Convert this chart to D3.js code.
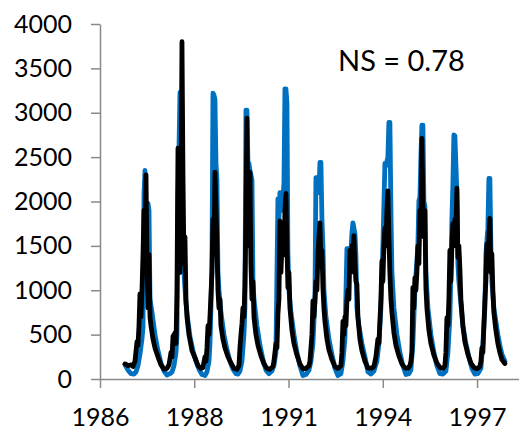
<!DOCTYPE html>
<html>
<head>
<meta charset="utf-8">
<script src="https://cdn.jsdelivr.net/npm/d3@7"></script>
<style>
  body { margin: 0; background: #fff; }
  svg { display: block; }
</style>
</head>
<body>
<div id="chart"></div>
<script>
// observed flow (black), decimal years
const obsYear = [
  1986.786, 1986.873, 1986.960, 1987.018, 1987.076, 1987.134, 1987.163, 1987.192, 1987.221, 1987.250,
  1987.279, 1987.309, 1987.338, 1987.367, 1987.396, 1987.425, 1987.454, 1987.483, 1987.512, 1987.541,
  1987.599, 1987.657, 1987.744, 1987.831, 1987.918, 1988.005, 1988.064,
  1988.122, 1988.151, 1988.180, 1988.238, 1988.267, 1988.296, 1988.325, 1988.354, 1988.383, 1988.412,
  1988.441, 1988.470, 1988.499, 1988.528, 1988.557, 1988.586, 1988.644, 1988.731, 1988.818, 1988.906,
  1988.993, 1989.051, 1989.109,
  1989.138, 1989.167, 1989.196, 1989.225, 1989.254, 1989.283, 1989.312, 1989.341, 1989.370, 1989.399,
  1989.428, 1989.457, 1989.486, 1989.515, 1989.544, 1989.573, 1989.631, 1989.690, 1989.777, 1989.864,
  1989.951, 1990.038, 1990.096,
  1990.125, 1990.154, 1990.183, 1990.212, 1990.241, 1990.270, 1990.299, 1990.328, 1990.357, 1990.386,
  1990.415, 1990.444, 1990.474, 1990.503, 1990.532, 1990.590, 1990.648, 1990.735, 1990.822, 1990.909,
  1990.996, 1991.083,
  1991.112, 1991.170, 1991.199, 1991.228, 1991.257, 1991.286, 1991.316, 1991.345, 1991.374, 1991.403,
  1991.432, 1991.461, 1991.490, 1991.519, 1991.548, 1991.577, 1991.635, 1991.693, 1991.780, 1991.867,
  1991.954, 1992.041, 1992.129,
  1992.158, 1992.187, 1992.216, 1992.245, 1992.274, 1992.303, 1992.332, 1992.361, 1992.390, 1992.419,
  1992.448, 1992.477, 1992.506, 1992.535, 1992.564, 1992.593, 1992.651, 1992.709, 1992.796, 1992.884,
  1992.971, 1993.058,
  1993.087, 1993.116, 1993.145, 1993.174, 1993.203, 1993.232, 1993.261, 1993.290, 1993.319, 1993.348,
  1993.377, 1993.406, 1993.435, 1993.464, 1993.493, 1993.522, 1993.551, 1993.609, 1993.667, 1993.755,
  1993.842, 1993.929, 1994.016,
  1994.074, 1994.132, 1994.161, 1994.190, 1994.219, 1994.248, 1994.277, 1994.306, 1994.335, 1994.364,
  1994.393, 1994.422, 1994.451, 1994.480, 1994.510, 1994.539, 1994.597, 1994.655, 1994.742, 1994.829,
  1994.916, 1995.003, 1995.061,
  1995.090, 1995.119, 1995.148, 1995.177, 1995.206, 1995.235, 1995.264, 1995.293, 1995.323, 1995.352,
  1995.381, 1995.410, 1995.439, 1995.468, 1995.497, 1995.526, 1995.555, 1995.613, 1995.671, 1995.758,
  1995.845, 1995.932, 1996.019, 1996.077,
  1996.107, 1996.136, 1996.165, 1996.194, 1996.223, 1996.252, 1996.281, 1996.310, 1996.339, 1996.368,
  1996.397, 1996.426, 1996.455, 1996.484, 1996.513, 1996.542, 1996.600, 1996.658, 1996.745, 1996.832,
  1996.920, 1997.007, 1997.094,
  1997.123, 1997.152, 1997.181, 1997.210, 1997.239, 1997.268, 1997.297, 1997.326, 1997.355, 1997.384,
  1997.413, 1997.442, 1997.471, 1997.500, 1997.558, 1997.616, 1997.674, 1997.733, 1997.820
];
const obsFlow = [
  170, 150, 160, 140, 200, 420, 380, 600, 960, 700,
  1000, 1400, 1900, 1500, 2300, 1300, 800, 1400, 700, 600,
  450, 350, 250, 160, 110, 120, 160,
  300, 250, 480, 520, 400, 1000, 2600, 2000, 1200, 2000,
  3800, 2300, 1300, 1600, 900, 700, 500, 320, 240, 150,
  120, 130, 250,
  200, 350, 600, 500, 700, 950, 1200, 1800, 1400, 2330,
  1950, 1500, 1000, 800, 900, 600, 450, 350, 250, 180,
  120, 110, 150,
  350, 500, 620, 800, 700, 1070, 1800, 2940, 1500, 1800,
  2330, 1300, 900, 1100, 700, 500, 380, 260, 170, 120,
  110, 140,
  200, 400, 350, 730, 900, 1780, 1200, 1500, 1700, 1400,
  1900, 2090, 1480, 1030, 1200, 800, 550, 400, 270, 170,
  115, 120, 150,
  200, 350, 500, 880, 700, 880, 1100, 1000, 1400, 1600,
  1760, 1300, 1450, 1030, 800, 650, 450, 330, 220, 140,
  120, 150,
  300, 650, 500, 700, 600, 880, 1000, 900, 1450, 1200,
  1500, 1400, 1615, 1300, 1100, 1070, 700, 450, 320, 200,
  125, 120, 140,
  250, 450, 400, 650, 900, 1330, 1100, 1500, 1700, 1500,
  1900, 2120, 1600, 1190, 900, 750, 520, 380, 260, 170,
  125, 120, 150,
  200, 300, 1030, 800, 1140, 1000, 1200, 1500, 1300, 1900,
  1700, 2710, 2000, 1600, 1900, 1030, 800, 550, 400, 270,
  180, 130, 120, 150,
  300, 690, 600, 900, 1450, 1100, 1500, 1750, 1500, 1800,
  1700, 2150, 1370, 1500, 1250, 900, 600, 420, 280, 180,
  130, 115, 140,
  200, 350, 300, 600, 880, 1100, 1520, 1300, 1600, 1810,
  1200, 1410, 1000, 750, 550, 400, 300, 220, 175
];

// simulated flow (blue), decimal years
const simYear = [
  1986.786, 1986.873, 1986.960, 1987.047, 1987.105, 1987.163, 1987.221, 1987.279, 1987.309, 1987.338,
  1987.367, 1987.396, 1987.425, 1987.454, 1987.483, 1987.512, 1987.570, 1987.657, 1987.744, 1987.831,
  1987.918, 1988.005, 1988.093,
  1988.151, 1988.209, 1988.267, 1988.296, 1988.325, 1988.354, 1988.383, 1988.412, 1988.441, 1988.470,
  1988.499, 1988.557, 1988.615, 1988.673, 1988.760, 1988.847, 1988.935, 1989.022, 1989.109,
  1989.167, 1989.225, 1989.254, 1989.283, 1989.312, 1989.341, 1989.370, 1989.399, 1989.428, 1989.457,
  1989.486, 1989.515, 1989.573, 1989.660, 1989.748, 1989.835, 1989.922, 1990.009, 1990.067, 1990.125,
  1990.183, 1990.241, 1990.270, 1990.299, 1990.328, 1990.357, 1990.386, 1990.415, 1990.444, 1990.474,
  1990.503, 1990.532, 1990.619, 1990.706, 1990.793, 1990.880, 1990.967, 1991.054,
  1991.112, 1991.170, 1991.228, 1991.257, 1991.286, 1991.345, 1991.403, 1991.432, 1991.461, 1991.490,
  1991.519, 1991.548, 1991.606, 1991.693, 1991.780, 1991.867, 1991.954, 1992.041, 1992.129,
  1992.187, 1992.245, 1992.303, 1992.332, 1992.361, 1992.419, 1992.448, 1992.477, 1992.506, 1992.535,
  1992.564, 1992.622, 1992.709, 1992.796, 1992.884, 1992.971, 1993.058,
  1993.116, 1993.174, 1993.232, 1993.261, 1993.319, 1993.377, 1993.406, 1993.435, 1993.464, 1993.493,
  1993.522, 1993.580, 1993.667, 1993.755, 1993.842, 1993.929, 1994.016,
  1994.103, 1994.161, 1994.219, 1994.277, 1994.335, 1994.364, 1994.422, 1994.451, 1994.480, 1994.510,
  1994.539, 1994.597, 1994.684, 1994.771, 1994.858, 1994.945, 1995.032, 1995.090,
  1995.148, 1995.206, 1995.293, 1995.323, 1995.352, 1995.381, 1995.410, 1995.439, 1995.468, 1995.497,
  1995.526, 1995.584, 1995.671, 1995.758, 1995.845, 1995.932, 1996.019, 1996.107,
  1996.165, 1996.223, 1996.252, 1996.281, 1996.310, 1996.339, 1996.368, 1996.397, 1996.426, 1996.455,
  1996.484, 1996.542, 1996.600, 1996.687, 1996.774, 1996.861, 1996.949, 1997.036, 1997.123,
  1997.181, 1997.239, 1997.268, 1997.297, 1997.326, 1997.355, 1997.384, 1997.413, 1997.442, 1997.500,
  1997.558, 1997.616, 1997.674, 1997.733, 1997.820
];
const simFlow = [
  160, 100, 60, 55, 80, 150, 280, 450, 580, 2080,
  2350, 1700, 1400, 1980, 1900, 900, 750, 500, 320, 180,
  90, 45, 60,
  80, 150, 300, 500, 2050, 2600, 3230, 3230, 2200, 1250,
  1200, 850, 650, 480, 320, 200, 110, 50, 40,
  80, 200, 400, 800, 1300, 3220, 3200, 3150, 2430, 2250,
  1200, 1000, 750, 500, 330, 200, 110, 60, 55, 90,
  200, 500, 800, 3030, 3030, 2430, 2430, 2350, 2300, 2240,
  1100, 900, 600, 380, 220, 100, 60, 90,
  150, 300, 2030, 1800, 2100, 1900, 2200, 3270, 3270, 3100,
  1400, 1000, 750, 500, 300, 150, 40, 50, 100,
  200, 400, 900, 2270, 2270, 2100, 2440, 2440, 1800, 1500,
  1000, 700, 450, 280, 120, 40, 60,
  200, 450, 1470, 1470, 1200, 1650, 1760, 1700, 1640, 1400,
  800, 600, 400, 250, 80, 55, 90,
  200, 400, 800, 1500, 2430, 2400, 2500, 2890, 2890, 1900,
  1200, 800, 500, 300, 150, 50, 60, 100,
  400, 1000, 1500, 2010, 2050, 2500, 2860, 2860, 2000, 1950,
  1200, 800, 500, 300, 150, 60, 55, 90,
  300, 700, 1200, 1800, 2200, 2750, 2740, 2420, 2100, 1300,
  1100, 850, 600, 400, 250, 120, 55, 60, 120,
  400, 800, 1400, 1560, 1700, 2260, 2260, 1500, 1100, 800,
  650, 500, 380, 280, 200
];

// axis settings
const yTicks = [0, 500, 1000, 1500, 2000, 2500, 3000, 3500, 4000];
const xTickLabels = ["1986", "1988", "1991", "1994", "1997"];
const axisStart = 1986.06;          // first date tick
const axisEnd = 1998.23;
const tickStepDays = 1000;          // date axis major unit
const nsLabel = "NS = 0.78";

const width = 519;
const height = 430;
const margin = { top: 24, right: 0, bottom: 51, left: 100 };

const svg = d3.select("#chart").append("svg")
  .attr("width", width)
  .attr("height", height);

const x = d3.scaleLinear()
  .domain([axisStart, axisEnd])
  .range([margin.left, width - margin.right]);

const y = d3.scaleLinear()
  .domain([0, 4000])
  .range([height - margin.bottom, margin.top]);

const xTickValues = xTickLabels.map((_, i) => axisStart + i * tickStepDays / 365.25);

// series lines, simulated under observed
const line = d3.line()
  .x(d => x(d[0]))
  .y(d => y(d[1]));

const simData = simYear.map((t, i) => [t, simFlow[i]]);
const obsData = obsYear.map((t, i) => [t, obsFlow[i]]);

svg.append("path")
  .datum(simData)
  .attr("fill", "none")
  .attr("stroke", "#0070C0")
  .attr("stroke-width", 4.8)
  .attr("stroke-linejoin", "round")
  .attr("stroke-linecap", "round")
  .attr("d", line);

svg.append("path")
  .datum(obsData)
  .attr("fill", "none")
  .attr("stroke", "#000")
  .attr("stroke-width", 4.8)
  .attr("stroke-linejoin", "round")
  .attr("stroke-linecap", "round")
  .attr("d", line);

// Y axis
const yAxis = svg.append("g")
  .attr("transform", `translate(${margin.left},0)`)
  .call(d3.axisLeft(y)
    .tickValues(yTicks)
    .tickFormat(d3.format("d"))
    .tickSize(9)
    .tickSizeOuter(0)
    .tickPadding(19));

// X axis
const xAxis = svg.append("g")
  .attr("transform", `translate(0,${height - margin.bottom})`)
  .call(d3.axisBottom(x)
    .tickValues(xTickValues)
    .tickFormat((d, i) => xTickLabels[i])
    .tickSize(9)
    .tickSizeOuter(0));

xAxis.selectAll(".tick text")
  .attr("y", 47)
  .attr("dy", null);

[xAxis, yAxis].forEach(g => {
  g.select(".domain").attr("stroke", "#898989").attr("stroke-width", 1.5);
  g.selectAll(".tick line").attr("stroke", "#898989").attr("stroke-width", 1.5);
  g.selectAll(".tick text")
    .attr("fill", "#000")
    .style("font-family", "Lato, 'Open Sans', sans-serif")
    .style("font-size", "25px");
});

// Nash-Sutcliffe annotation
svg.append("text")
  .attr("x", 338)
  .attr("y", 71)
  .style("font-family", "Lato, 'Open Sans', sans-serif")
  .style("font-size", "29px")
  .attr("fill", "#000")
  .text(nsLabel);
</script>
</body>
</html>
